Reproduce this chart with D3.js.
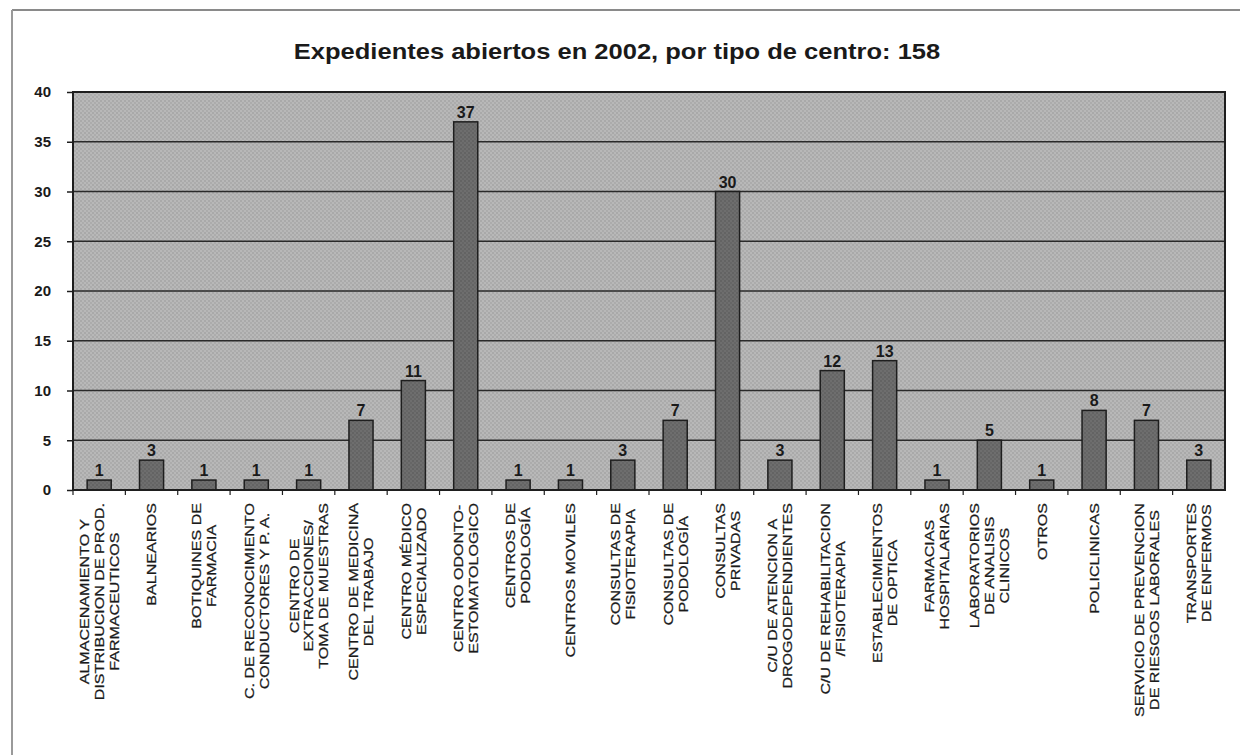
<!DOCTYPE html>
<html><head><meta charset="utf-8">
<script src="https://cdn.jsdelivr.net/npm/d3@7"></script>
<style>body{margin:0;background:#fff;} text{font-family:"Liberation Sans",Arial,sans-serif;fill:#1a1a1a;}</style>
</head><body>
<svg id="chart" width="1240" height="755"></svg>
<script>
const title = "Expedientes abiertos en 2002, por tipo de centro: 158";
const categories = [
  ["ALMACENAMIENTO Y","DISTRIBUCION DE PROD.","FARMACEUTICOS"],
  ["BALNEARIOS"],
  ["BOTIQUINES DE","FARMACIA"],
  ["C. DE RECONOCIMIENTO","CONDUCTORES Y P. A."],
  ["CENTRO DE","EXTRACCIONES/","TOMA DE MUESTRAS"],
  ["CENTRO DE MEDICINA","DEL TRABAJO"],
  ["CENTRO MÉDICO","ESPECIALIZADO"],
  ["CENTRO ODONTO-","ESTOMATOLOGICO"],
  ["CENTROS DE","PODOLOGÍA"],
  ["CENTROS MOVILES"],
  ["CONSULTAS DE","FISIOTERAPIA"],
  ["CONSULTAS DE","PODOLOGÍA"],
  ["CONSULTAS","PRIVADAS"],
  ["C/U DE ATENCION A","DROGODEPENDIENTES"],
  ["C/U DE REHABILITACION","/FISIOTERAPIA"],
  ["ESTABLECIMIENTOS","DE OPTICA"],
  ["FARMACIAS","HOSPITALARIAS"],
  ["LABORATORIOS","DE ANALISIS","CLINICOS"],
  ["OTROS"],
  ["POLICLINICAS"],
  ["SERVICIO DE PREVENCION","DE RIESGOS LABORALES"],
  ["TRANSPORTES","DE ENFERMOS"]
];
const values = [1,3,1,1,1,7,11,37,1,1,3,7,30,3,12,13,1,5,1,8,7,3];
const yTicks = [0,5,10,15,20,25,30,35,40];

const svg = d3.select("#chart");
const m = {left:73, right:1225, top:92, bottom:490};

// outer frame
svg.append("line").attr("x1",12).attr("x2",1240).attr("y1",10).attr("y2",10).attr("stroke","#8a8a8a").attr("stroke-width",2);
svg.append("line").attr("x1",12).attr("x2",12).attr("y1",10).attr("y2",755).attr("stroke","#9a9a9a").attr("stroke-width",2);

// patterns
const defs = svg.append("defs");
const bg = defs.append("pattern").attr("id","bgpat").attr("width",4).attr("height",4).attr("patternUnits","userSpaceOnUse");
bg.append("rect").attr("width",4).attr("height",4).attr("fill","#b8b8b8");
bg.append("circle").attr("cx",1).attr("cy",1).attr("r",0.9).attr("fill","#a2a2a2");
bg.append("circle").attr("cx",3).attr("cy",3).attr("r",0.9).attr("fill","#a6a6a6");
const bp = defs.append("pattern").attr("id","barpat").attr("width",4).attr("height",4).attr("patternUnits","userSpaceOnUse");
bp.append("rect").attr("width",4).attr("height",4).attr("fill","#6e6e6e");
bp.append("circle").attr("cx",1).attr("cy",1).attr("r",0.9).attr("fill","#5e5e5e");
bp.append("circle").attr("cx",3).attr("cy",3).attr("r",0.9).attr("fill","#626262");

const x = d3.scaleBand().domain(d3.range(categories.length)).range([m.left,m.right]).paddingInner(0.54).paddingOuter(0.27);
const y = d3.scaleLinear().domain([0,40]).range([m.bottom,m.top]);

svg.append("rect").attr("x",m.left).attr("y",m.top).attr("width",m.right-m.left).attr("height",m.bottom-m.top).attr("fill","url(#bgpat)");

// gridlines
svg.append("g").selectAll("line").data(yTicks.filter(d=>d>0 && d<40)).join("line")
  .attr("x1",m.left).attr("x2",m.right).attr("y1",d=>y(d)).attr("y2",d=>y(d))
  .attr("stroke","#2a2a2a").attr("stroke-width",1.5);

// bars
svg.append("g").selectAll("rect").data(values).join("rect")
  .attr("x",(d,i)=>x(i)).attr("width",x.bandwidth())
  .attr("y",d=>y(d)).attr("height",d=>y(0)-y(d))
  .attr("fill","url(#barpat)").attr("stroke","#1e1e1e").attr("stroke-width",1.5);

// plot border
svg.append("rect").attr("x",m.left).attr("y",m.top).attr("width",m.right-m.left).attr("height",m.bottom-m.top)
  .attr("fill","none").attr("stroke","#1e1e1e").attr("stroke-width",2);

// y axis
const yAxis = d3.axisLeft(y).tickValues(yTicks).tickSize(6).tickPadding(16);
const ya = svg.append("g").attr("transform",`translate(${m.left},0)`).call(yAxis);
ya.select(".domain").remove();
ya.selectAll("line").attr("stroke","#1e1e1e").attr("stroke-width",1.5);
ya.selectAll("text").attr("font-family","Liberation Sans, Arial, sans-serif").attr("font-size",15).attr("font-weight","bold").attr("fill","#1a1a1a");

// x tick marks
const xa = d3.axisBottom(x).tickFormat("").tickSize(5);
const xg = svg.append("g").attr("transform",`translate(0,${m.bottom})`).call(xa);
xg.select(".domain").remove();
xg.selectAll("line").attr("stroke","#1e1e1e").attr("stroke-width",1.2)
  .attr("transform",`translate(${-x.step()/2},0)`);

// value labels
svg.append("g").selectAll("text").data(values).join("text")
  .attr("x",(d,i)=>x(i)+x.bandwidth()/2).attr("y",d=>y(d)-4)
  .attr("text-anchor","middle").attr("font-size",16).attr("font-weight","bold")
  .text(d=>d);

// category labels
const sx = 1.19, lineH = 15, topY = 503;
categories.forEach((lines,i)=>{
  const cx = x(i)+x.bandwidth()/2;
  const g = svg.append("g");
  const t = g.append("g");
  const texts = lines.map((ln,j)=>t.append("text").attr("text-anchor","middle").attr("font-size",13.5)
      .attr("stroke","#1a1a1a").attr("stroke-width",0.25)
      .attr("x",0).attr("y",(j-(lines.length-1)/2)*lineH).attr("dy","0.36em").text(ln));
  const L = d3.max(texts,tx=>tx.node().getComputedTextLength())*sx;
  g.attr("transform",`translate(${cx},${topY+L/2}) rotate(-90) scale(${sx},1)`);
});

// title
svg.append("text").attr("text-anchor","middle")
  .attr("transform","translate(617,59) scale(1.16,1)")
  .attr("font-size",22).attr("font-weight","bold").text(title);
</script>
</body></html>
